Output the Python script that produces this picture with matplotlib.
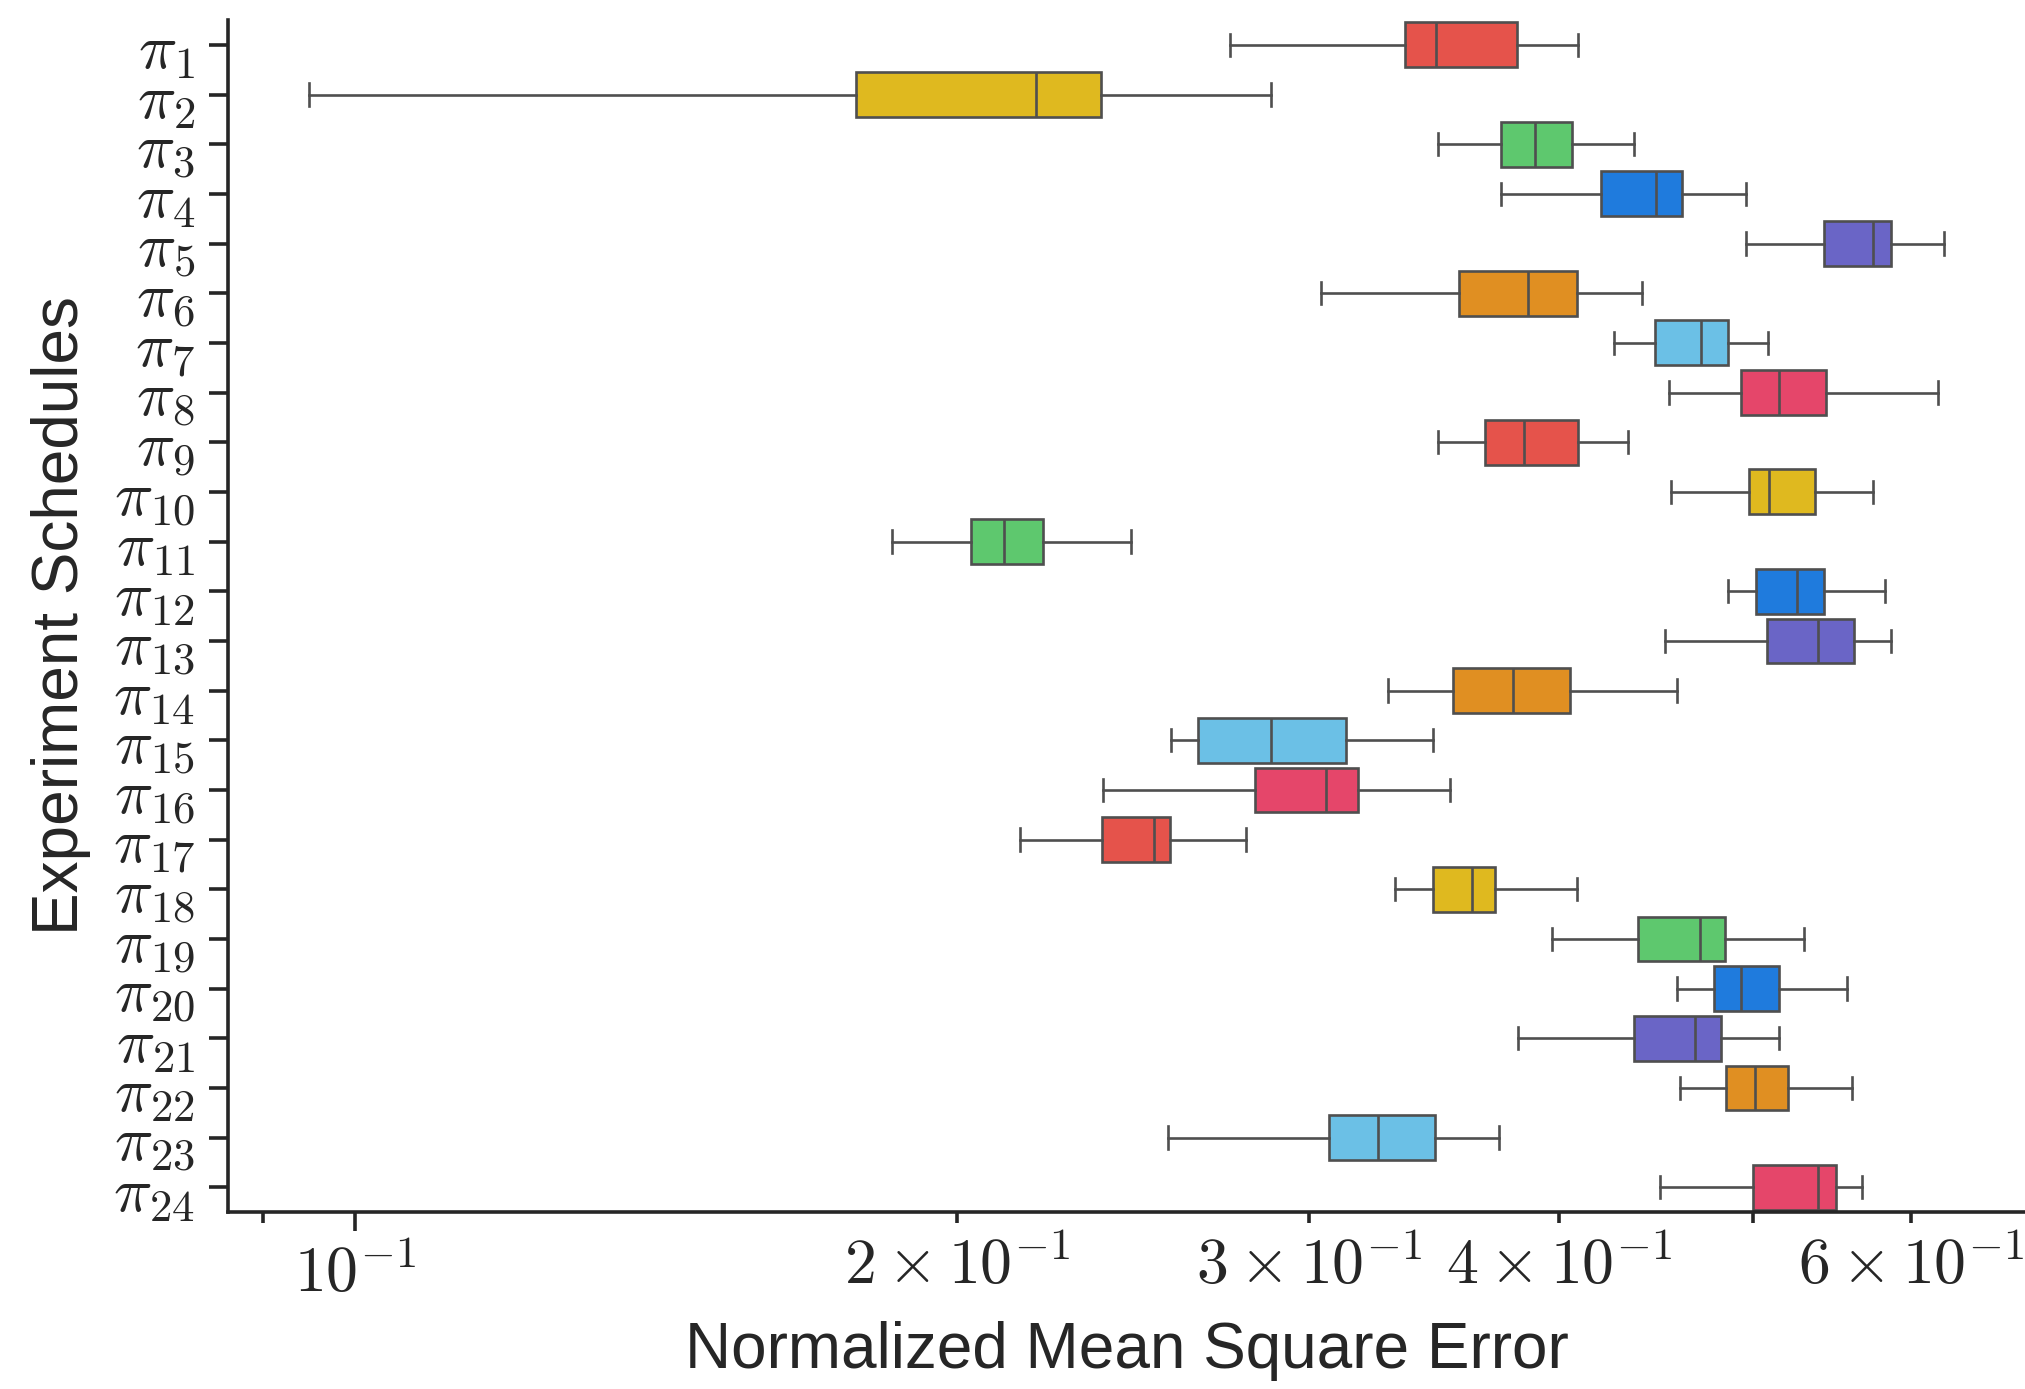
import matplotlib
matplotlib.use("Agg")
import matplotlib.pyplot as plt
from matplotlib.ticker import LogFormatterSciNotation

plt.rcParams['font.family'] = ['Liberation Sans', 'DejaVu Sans']
plt.rcParams['mathtext.fontset'] = 'cm'

# box statistics (log x axis)
schedules = [r'$\pi_{%d}$' % i for i in range(1, 25)]
whislo = [0.274, 0.0948, 0.348, 0.374, 0.496, 0.304, 0.426, 0.454,
          0.348, 0.455, 0.1856, 0.486, 0.452, 0.3285, 0.256, 0.2365,
          0.215, 0.331, 0.397, 0.458, 0.3815, 0.460, 0.255, 0.4495]
q1 = [0.335, 0.178, 0.374, 0.420, 0.543, 0.3565, 0.4465, 0.493,
      0.3675, 0.498, 0.2033, 0.502, 0.508, 0.354, 0.264, 0.282,
      0.2364, 0.346, 0.438, 0.478, 0.436, 0.485, 0.307, 0.500]
med = [0.347, 0.219, 0.389, 0.447, 0.5745, 0.386, 0.471, 0.515,
       0.384, 0.5095, 0.2111, 0.526, 0.539, 0.3795, 0.287, 0.306,
       0.251, 0.362, 0.4706, 0.493, 0.468, 0.5015, 0.3246, 0.539]
q3 = [0.381, 0.236, 0.406, 0.461, 0.586, 0.4085, 0.486, 0.544,
      0.409, 0.537, 0.2209, 0.5425, 0.562, 0.405, 0.313, 0.3175,
      0.2557, 0.3715, 0.484, 0.515, 0.482, 0.5205, 0.3467, 0.550]
whishi = [0.409, 0.287, 0.436, 0.496, 0.623, 0.440, 0.509, 0.619,
          0.433, 0.574, 0.2444, 0.582, 0.586, 0.458, 0.346, 0.353,
          0.279, 0.4085, 0.5305, 0.557, 0.515, 0.5605, 0.3734, 0.567]

palette = ['#e5534b', '#dfb91f', '#5ec86e', '#1f7bdd',
           '#6a65c6', '#e08f22', '#6bc0e6', '#e5466a']


class CMLogFormatter(LogFormatterSciNotation):
    # same labels as the default, but drawn in Computer Modern
    def __call__(self, x, pos=None):
        s = super().__call__(x, pos)
        return s.replace(r'\mathdefault', '')


stats = []
for i in range(len(schedules)):
    stats.append({'whislo': whislo[i], 'q1': q1[i], 'med': med[i],
                  'q3': q3[i], 'whishi': whishi[i], 'fliers': []})

fig = plt.figure(figsize=(10.125, 6.945), dpi=200)
ax = fig.add_axes([0.1126, 0.1274, 0.8874, 0.8582])

edge = '#4f4f4f'
lw = 0.95
bp = ax.bxp(stats, positions=range(len(schedules)), widths=0.9,
            orientation='horizontal', patch_artist=True, showfliers=False,
            boxprops=dict(edgecolor=edge, linewidth=lw),
            whiskerprops=dict(color=edge, linewidth=lw),
            capprops=dict(color=edge, linewidth=lw),
            medianprops=dict(color=edge, linewidth=lw))
for i, box in enumerate(bp['boxes']):
    box.set_facecolor(palette[i % len(palette)])

ax.set_xscale('log')
ax.set_xlim(0.0864, 0.684)
ax.xaxis.set_major_formatter(CMLogFormatter())
ax.xaxis.set_minor_formatter(CMLogFormatter(labelOnlyBase=False))
ax.set_ylim(len(schedules) - 0.5, -0.5)
ax.set_yticks(range(len(schedules)))
ax.set_yticklabels(schedules)

ax.spines['top'].set_visible(False)
ax.spines['right'].set_visible(False)
for s in ['left', 'bottom']:
    ax.spines[s].set_linewidth(1.3)
    ax.spines[s].set_color('#262626')
ax.tick_params(axis='both', which='major', length=6.8, width=1.3,
               color='#262626', labelsize=23, labelcolor='#262626')
ax.tick_params(axis='x', which='minor', length=4, width=1.3,
               color='#262626', labelsize=23, labelcolor='#262626')
ax.tick_params(axis='x', which='both', pad=5)
ax.tick_params(axis='y', pad=5)

ax.set_xlabel('Normalized Mean Square Error', fontsize=23, color='#262626',
              labelpad=6)
ax.set_ylabel('Experiment Schedules', fontsize=23, color='#262626',
              labelpad=8)

fig.savefig('out.png', dpi=200)
